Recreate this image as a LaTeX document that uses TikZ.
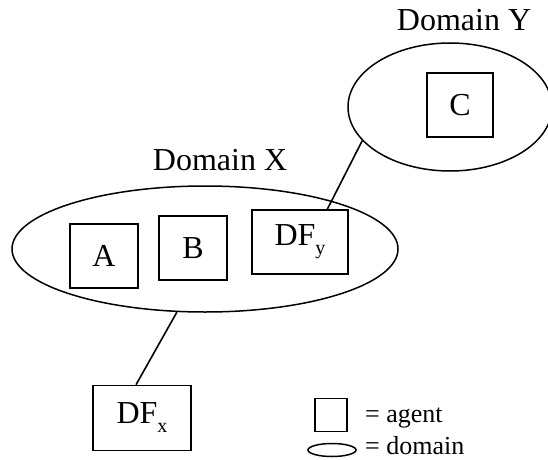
\documentclass[tikz,border=0pt]{standalone}
\usepackage{fontspec}
\setmainfont{Liberation Serif}
\usetikzlibrary{shapes.geometric,calc}
\tikzset{
  agentbox/.style={draw, line width=1.6pt, rectangle, inner sep=0pt,
    font=\fontsize{32}{38}\selectfont},
  domainoval/.style={draw, line width=1.5pt, ellipse, inner sep=0pt},
  link/.style={line width=1.6pt},
  dlabel/.style={anchor=base, inner sep=0pt, font=\fontsize{32}{38}\selectfont},
  legendtext/.style={anchor=base west, inner sep=0pt, text depth=0pt,
    font=\fontsize{26}{31}\selectfont}
}
\newcommand{\dfsub}[1]{DF\raisebox{-9pt}{\fontsize{20}{24}\selectfont #1}}
\begin{document}
\begin{tikzpicture}[x=1pt, y=1pt]
\useasboundingbox (0,0) rectangle (548,459);

% domains
\node[domainoval, minimum width=386, minimum height=126] (domx) at (205,210) {};
\node[domainoval, minimum width=204, minimum height=128] (domy) at (450,352) {};
\node[dlabel] (labx) at (220,289) {Domain X};
\node[dlabel] (laby) at (464,428) {Domain Y};

% agents
\node[agentbox, minimum width=68, minimum height=64] (a) at (104,203) {A};
\node[agentbox, minimum width=68, minimum height=64] (b) at (193,211) {B};
\node[agentbox, minimum width=96, minimum height=64] (dfy) at (300,217) {\dfsub{y}};
\node[agentbox, minimum width=66, minimum height=64] (c) at (460,354) {C};
\node[agentbox, minimum width=98, minimum height=65] (dfx) at (142,41) {\dfsub{x}};

% links
\draw[link] ($(dfx.north west)!0.44!(dfx.north east)$) -- (domx.246);
\draw[link] ($(dfy.north west)!0.78!(dfy.north east)$) -- (domy.201);

% legend
\node[agentbox, minimum width=32, minimum height=33] (lgsq) at (331,44) {};
\node[domainoval, minimum width=48, minimum height=13] (lgel) at (332,9) {};
\node[legendtext] (lga) at (365,37) {= agent};
\node[legendtext] (lgd) at (365,5) {= domain};
\end{tikzpicture}
\end{document}
